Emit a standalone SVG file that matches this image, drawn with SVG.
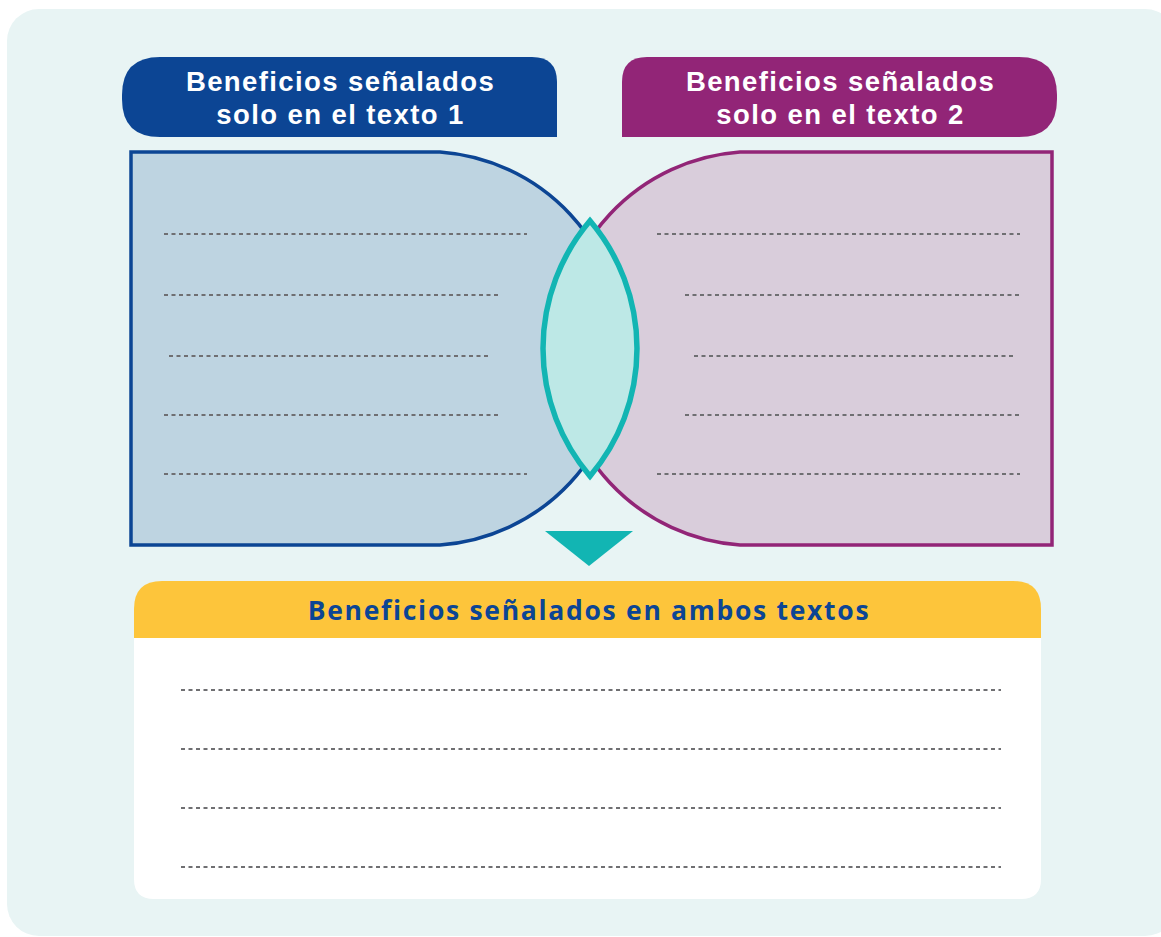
<svg xmlns="http://www.w3.org/2000/svg" width="1161" height="937" viewBox="0 0 1161 937">
<style>
.hdr{font-family:"Liberation Sans","Open Sans",sans-serif;font-weight:700;font-size:27.5px;letter-spacing:1.4px;fill:#ffffff;text-anchor:middle}
.ttl{font-family:"Open Sans","Liberation Sans",sans-serif;font-weight:700;font-size:26.5px;letter-spacing:1.7px;fill:#0c4594;text-anchor:middle}
.dots{stroke:#6f6f72;stroke-width:2.2;stroke-dasharray:4 3.5;fill:none}
</style>
<rect x="7" y="9" width="1170" height="927" rx="32" fill="#e8f4f4"/>
<g id="header1">
<path d="M160,57 H532 Q557,57 557,82 V137 H160 Q122,137 122,99 V95 Q122,57 160,57 Z" fill="#0c4594"/>
<text class="hdr" x="340.5" y="91">Beneficios señalados</text>
<text class="hdr" x="340.5" y="124">solo en el texto 1</text>
</g>
<g id="header2">
<path d="M647,57 H1019 Q1057,57 1057,95 V99 Q1057,137 1019,137 H622 V82 Q622,57 647,57 Z" fill="#922577"/>
<text class="hdr" x="840.5" y="91">Beneficios señalados</text>
<text class="hdr" x="840.5" y="124">solo en el texto 2</text>
</g>
<g id="text1">
<path d="M131,152 H440 A197,197 0 0 1 440,545 H131 Z" fill="#bed4e1" stroke="#0c4594" stroke-width="3.5"/>
<g class="dots">
<line x1="164" y1="234" x2="527" y2="234"/>
<line x1="164" y1="295" x2="500" y2="295"/>
<line x1="169" y1="356" x2="490" y2="356"/>
<line x1="164" y1="415" x2="500" y2="415"/>
<line x1="164" y1="474" x2="527" y2="474"/>
</g>
</g>
<g id="text2">
<path d="M1052,152 H740 A197,197 0 0 0 740,545 H1052 Z" fill="#d9cddb" stroke="#922577" stroke-width="3.5"/>
<g class="dots">
<line x1="657" y1="234" x2="1020" y2="234"/>
<line x1="685" y1="295" x2="1020" y2="295"/>
<line x1="694" y1="356" x2="1016" y2="356"/>
<line x1="685" y1="415" x2="1020" y2="415"/>
<line x1="657" y1="474" x2="1020" y2="474"/>
</g>
</g>
<g id="both">
<path d="M590,220.8 A197,197 0 0 1 590,476.2 A197,197 0 0 1 590,220.8 Z" fill="#bde8e6" stroke="#12b5b3" stroke-width="5.5" stroke-linejoin="miter"/>
</g>
<g id="connectors">
<polygon points="545,531 633,531 589,566" fill="#12b5b3"/>
</g>
<g id="summary">
<path d="M162,581 H1013 Q1041,581 1041,609 V638 H134 V609 Q134,581 162,581 Z" fill="#fdc53b"/>
<path d="M134,638 H1041 V879 Q1041,899 1021,899 H154 Q134,899 134,879 Z" fill="#ffffff"/>
<text class="ttl" x="589" y="620">Beneficios señalados en ambos textos</text>
<g class="dots">
<line x1="181" y1="690" x2="1001" y2="690"/>
<line x1="181" y1="749" x2="1001" y2="749"/>
<line x1="181" y1="808" x2="1001" y2="808"/>
<line x1="181" y1="867" x2="1001" y2="867"/>
</g>
</g>
</svg>
